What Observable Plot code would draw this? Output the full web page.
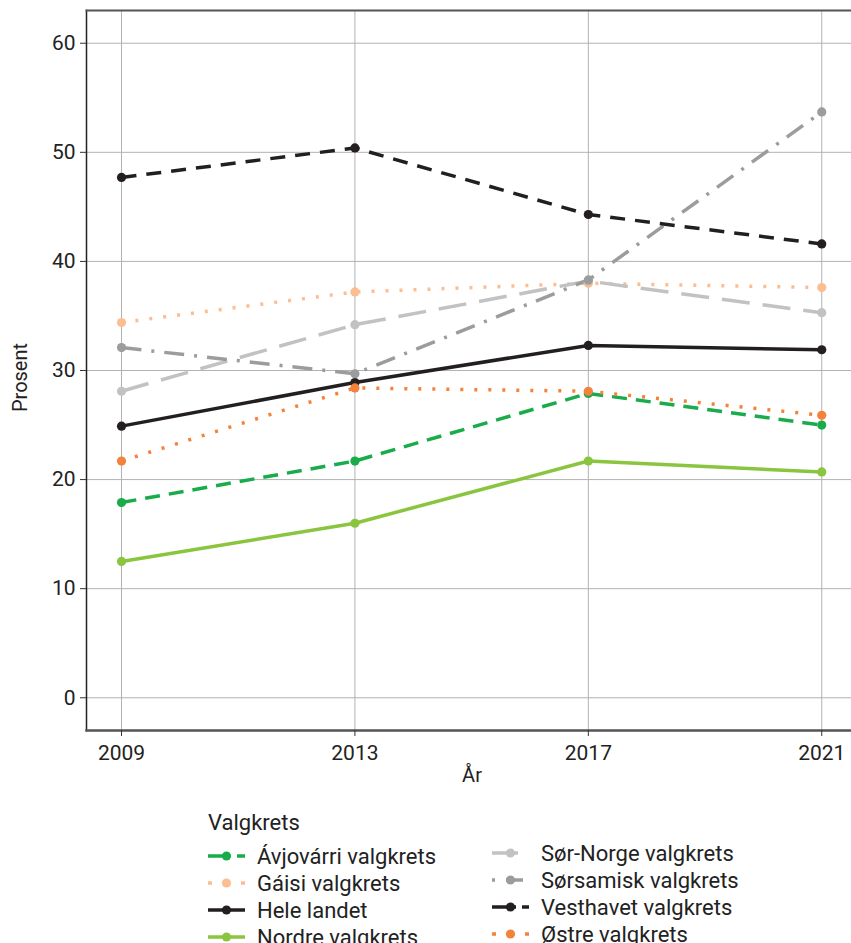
<!DOCTYPE html>
<html>
<head>
<meta charset="utf-8">
<script src="https://cdn.jsdelivr.net/npm/d3@7"></script>
<script src="https://cdn.jsdelivr.net/npm/@observablehq/plot@0.6"></script>
<style>
  html, body { margin: 0; padding: 0; background: #fff; }
  #wrap { position: relative; width: 851px; height: 943px; overflow: hidden; font-family: Roboto, "Noto Sans", sans-serif; color: #222; }
  #chart { position: absolute; left: 0; top: 0; }
  .legend-title { position: absolute; left: 208px; top: 810px; font-size: 22px; line-height: 26px; }
  .row { position: absolute; height: 26px; display: flex; align-items: center; font-size: 22px; white-space: nowrap; }
  .row svg { flex: none; }
</style>
</head>
<body>
<div id="wrap">
  <div id="chart"></div>
  <div class="legend-title">Valgkrets</div>
  <div id="legend"></div>
</div>
<script>
// ---- Data ----
const years = [2009, 2013, 2017, 2021];
const seriesNames = [
  "Ávjovárri valgkrets", "Gáisi valgkrets", "Hele landet", "Nordre valgkrets",
  "Sør-Norge valgkrets", "Sørsamisk valgkrets", "Vesthavet valgkrets", "Østre valgkrets"
];
const avjovarri = [17.9, 21.7, 27.9, 25.0];
const gaisi     = [34.4, 37.2, 38.0, 37.6];
const heleLandet = [24.9, 28.9, 32.3, 31.9];
const nordre    = [12.5, 16.0, 21.7, 20.7];
const sorNorge  = [28.1, 34.2, 38.2, 35.3];
const sorsamisk = [32.1, 29.7, 38.3, 53.7];
const vesthavet = [47.7, 50.4, 44.3, 41.6];
const ostre     = [21.7, 28.4, 28.1, 25.9];
const seriesValues = [avjovarri, gaisi, heleLandet, nordre, sorNorge, sorsamisk, vesthavet, ostre];
const yTicks = [0, 10, 20, 30, 40, 50, 60];

// ---- Styles ----
const colors = ["#1aab4b", "#fdbd92", "#231f20", "#8bc53f", "#c2c2c2", "#9b9c9e", "#231f20", "#f4823a"];
const dashes = ["15,9", "3,11", null, null, "28,13", "20,10,3,10", "15,10", "3,11"];
const keyDashes = ["22,7,8,100", "4,12.5,4,12.5,4,100", null, null, "26,100", "3,11,17,100", "24,6,8,100", "4,12.5,4,12.5,4,100"];

const table = seriesNames.map((name, s) => years.map((yr, i) => ({series: name, year: yr, value: seriesValues[s][i]})));

const marks = [
  Plot.gridX(years, {stroke: "#b2b2b4", strokeOpacity: 1, strokeWidth: 1}),
  Plot.gridY(yTicks, {stroke: "#b2b2b4", strokeOpacity: 1, strokeWidth: 1}),
  Plot.frame({anchor: "left", stroke: "#222", strokeWidth: 1.5}),
  Plot.frame({anchor: "top", stroke: "#555", strokeWidth: 2}),
  Plot.frame({anchor: "bottom", stroke: "#555", strokeWidth: 2.5})
];
table.forEach((rows, s) => {
  const opts = {x: "year", y: "value", stroke: colors[s], strokeWidth: 3.5, strokeLinecap: "butt", strokeLinejoin: "round"};
  if (dashes[s]) opts.strokeDasharray = dashes[s];
  marks.push(Plot.line(rows, opts));
});
table.forEach((rows, s) => {
  marks.push(Plot.dot(rows, {x: "year", y: "value", fill: colors[s], r: 4.6, stroke: "none"}));
});
marks.push(
  Plot.axisX(years, {tickSize: 6, tickPadding: 9, tickFormat: d => String(d), fontSize: 21, label: null, stroke: "#333"}),
  Plot.axisY(yTicks, {tickSize: 6, tickPadding: 5, fontSize: 21, label: null, stroke: "#333"}),
  Plot.text(["Prosent"], {frameAnchor: "left", textAnchor: "middle", dx: -66, dy: 7, rotate: -90, fontSize: 20, fill: "#222"}),
  Plot.text(["År"], {frameAnchor: "bottom", textAnchor: "middle", dx: 3, dy: 51, fontSize: 20, fill: "#222"})
);

const chart = Plot.plot({
  width: 851,
  height: 790,
  marginLeft: 86,
  marginRight: 0,
  marginTop: 10,
  marginBottom: 60,
  style: {fontFamily: "Roboto, 'Noto Sans', sans-serif", fontSize: "21px", color: "#222", background: "#fff", overflow: "visible"},
  x: {domain: [2008.4, 2021.51]},
  y: {domain: [-3, 63]},
  marks
});
document.getElementById("chart").appendChild(chart);

// ---- Legend ----
const legend = document.getElementById("legend");
const pos = [
  [208, 856], [208, 883], [208, 910], [208, 937],
  [492, 853], [492, 880], [492, 907], [492, 934]
];
seriesNames.forEach((name, s) => {
  const row = document.createElement("div");
  row.className = "row";
  row.style.left = pos[s][0] + "px";
  row.style.top = (pos[s][1] - 13) + "px";
  const ns = "http://www.w3.org/2000/svg";
  const svg = document.createElementNS(ns, "svg");
  svg.setAttribute("width", 49);
  svg.setAttribute("height", 26);
  const line = document.createElementNS(ns, "line");
  line.setAttribute("x1", 0); line.setAttribute("x2", 37);
  line.setAttribute("y1", 13); line.setAttribute("y2", 13);
  line.setAttribute("stroke", colors[s]);
  line.setAttribute("stroke-width", 3.5);
  if (keyDashes[s]) line.setAttribute("stroke-dasharray", keyDashes[s]);
  svg.appendChild(line);
  const c = document.createElementNS(ns, "circle");
  c.setAttribute("cx", 18.5); c.setAttribute("cy", 13); c.setAttribute("r", 4.6);
  c.setAttribute("fill", colors[s]);
  svg.appendChild(c);
  row.appendChild(svg);
  const span = document.createElement("span");
  span.textContent = name;
  row.appendChild(span);
  legend.appendChild(row);
});
</script>
</body>
</html>
